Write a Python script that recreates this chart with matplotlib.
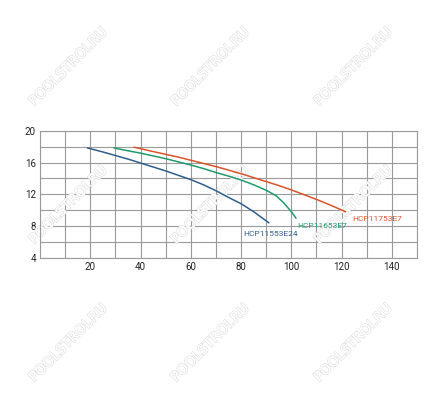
import matplotlib
matplotlib.use("Agg")
import matplotlib.pyplot as plt
import matplotlib.patheffects as pe
import numpy as np

# Data
blue_x = [19, 25, 30, 35, 40, 45, 50, 55, 60, 65, 70, 75, 80, 85, 91]
blue_y = [17.85, 17.35, 16.9, 16.45, 15.95, 15.45, 14.95, 14.4, 13.85, 13.2, 12.45, 11.6, 10.8, 9.8, 8.4]
green_x = [29.5, 35, 40, 45, 50, 55, 60, 65, 70, 75, 80, 85, 90, 94, 97, 100, 101.8]
green_y = [17.85, 17.5, 17.2, 16.85, 16.5, 16.1, 15.7, 15.25, 14.75, 14.3, 13.8, 13.2, 12.5, 11.8, 10.9, 9.8, 9.0]
red_x = [37.5, 45, 50, 55, 60, 65, 70, 75, 80, 85, 90, 95, 100, 105, 110, 115, 121.5]
red_y = [17.95, 17.4, 17.05, 16.7, 16.3, 15.9, 15.5, 15.05, 14.6, 14.1, 13.6, 13.1, 12.55, 11.95, 11.35, 10.7, 9.8]
series_names = ["HCP11553E24", "HCP11653E7", "HCP11753E7"]
x_ticks = [20, 40, 60, 80, 100, 120, 140]
y_ticks = [4, 8, 12, 16, 20]

colors = ["#2f5d8c", "#1f9a6b", "#d9542c"]

fig = plt.figure(figsize=(4.46, 3.96), dpi=100)
ax = fig.add_axes([40/446, 1-257.5/396, (417-40)/446, (257.5-131)/396])

for xs, ys, c in [(blue_x, blue_y, colors[0]), (green_x, green_y, colors[1]), (red_x, red_y, colors[2])]:
    ax.plot(xs, ys, color=c, lw=1.1, zorder=3, solid_joinstyle="round")

ax.set_xlim(0, 150)
ax.set_ylim(4, 20)
ax.set_xticks(x_ticks)
ax.set_yticks(y_ticks)
ax.set_xticks(np.arange(0, 151, 10), minor=True)
ax.set_yticks(np.arange(4, 21, 2), minor=True)
ax.grid(True, which="both", color="#9a9a9a", lw=0.8, zorder=1)
ax.tick_params(which="both", length=0, labelsize=7, colors="#222222")
ax.tick_params(axis="x", pad=3)
ax.tick_params(axis="y", pad=3)
for s in ax.spines.values():
    s.set_color("#9a9a9a")
    s.set_linewidth(0.8)
for lab in ax.get_xticklabels() + ax.get_yticklabels():
    lab.set_fontfamily("Roboto")

# curve labels
ax.text(80.8, 6.96, series_names[0], color=colors[0], fontsize=6, va="center", ha="left", family="Roboto")
ax.text(102.3, 7.97, series_names[1], color=colors[1], fontsize=6, va="center", ha="left", family="Roboto")
ax.text(124.3, 8.9, series_names[2], color=colors[2], fontsize=6, va="center", ha="left", family="Roboto")

# watermarks
for cx in [68, 210, 353]:
    for cy in [67, 205, 343]:
        ax.text(cx/446, 1-cy/396, "POOLSTROI.RU", rotation=45, ha="center", va="center",
                transform=fig.transFigure, clip_on=False,
                fontsize=10, color="white", family="DejaVu Sans", zorder=2.5,
                path_effects=[pe.withStroke(linewidth=1.0, foreground="#dcdcdc"), pe.Normal()])

fig.savefig("out.png", dpi=100, facecolor="white")
